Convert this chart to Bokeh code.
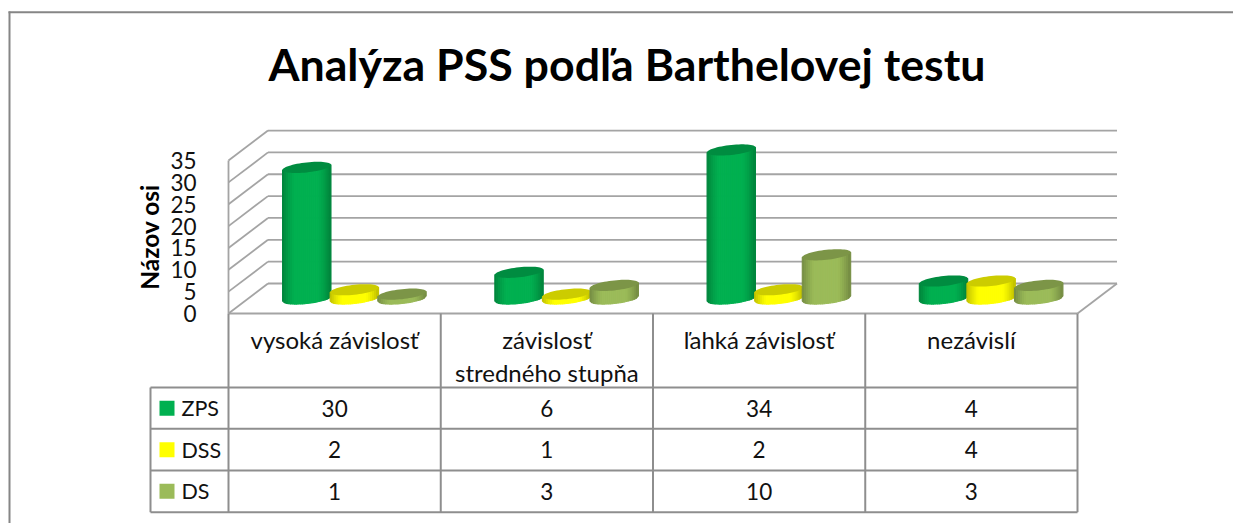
from bokeh.plotting import figure
from bokeh.models import Range1d, LinearAxis, FixedTicker
from bokeh.core.properties import value
from bokeh.embed import file_html
from bokeh.resources import INLINE
import numpy as np

title_text = "Analýza PSS podľa Barthelovej testu"
axis_title = "Názov osi"
categories = ["vysoká závislosť", "závislosť\nstredného stupňa", "ľahká závislosť", "nezávislí"]
series_names = ["ZPS", "DSS", "DS"]
ZPS = [30, 6, 34, 4]
DSS = [2, 1, 2, 4]
DS = [1, 3, 10, 3]
y_ticks = [0, 5, 10, 15, 20, 25, 30, 35]
series_colors = ["#00B050", "#FFFF00", "#9BBB59"]
series_values = [ZPS, DSS, DS]

FONT = "Lato"
W, H = 1233, 523
UX, UY = 212.25, 4.37          # pixels per category, pixels per axis unit
X0, Y0 = 228.0, 313.0          # page position of the front axis origin
DX, DY = 39.5, 30.0            # depth of the 3D box in pixels


def X(px):
    return (px - X0) / UX


def Y(py):
    return (Y0 - py) / UY


p = figure(width=W, height=H, output_backend="svg", toolbar_location=None,
           x_range=Range1d(X(0), X(W)), y_range=Range1d(Y(H), Y(0)),
           x_axis_location=None, y_axis_location=None, min_border=0)
p.outline_line_color = None
p.background_fill_color = "white"
p.border_fill_color = "white"
p.xgrid.visible = False
p.ygrid.visible = False

GRID = "#a4a4a4"
TABLE = "#8e8e8e"
ddx, ddy = DX / UX, DY / UY
n = len(categories)

# outer chart frame
p.segment([X(9), X(8)], [Y(11), Y(11.7)], [X(9), X(W)], [Y(H), Y(11.7)],
          line_color="#868686", line_width=2)

# walls: back grid lines, side diagonals, floor
p.segment([ddx] * len(y_ticks), [t + ddy for t in y_ticks],
          [n + ddx] * len(y_ticks), [t + ddy for t in y_ticks],
          line_color=GRID, line_width=1.8)
p.segment([0] * len(y_ticks), y_ticks, [ddx] * len(y_ticks), [t + ddy for t in y_ticks],
          line_color=GRID, line_width=1.8)
p.segment([0, n], [0, 0], [n, n + ddx], [0, ddy], line_color=GRID, line_width=1.8)


def shade(c, f):
    r, g, b = int(c[1:3], 16), int(c[3:5], 16), int(c[5:7], 16)
    return "#%02x%02x%02x" % (int(r * f), int(g * f), int(b * f))


def cylinder(cx, v, color):
    a, b, k = 24.2 / UX, 5.0 / UY, 0.105
    base = ddy / 2
    ts = np.linspace(-1, 1, 25)
    xs, ys, cs = [], [], []
    for t0, t1 in zip(ts[:-1], ts[1:]):
        tt = np.array([t0, t1])
        tm = (t0 + t1) / 2
        xa = cx + a * tt
        tilt = k * (a * UX) * tt / UY
        low = base + tilt - b * np.sqrt(np.clip(1 - tt ** 2, 0, 1))
        top = base + v + tilt
        xs.append([xa[0], xa[1], xa[1], xa[0]])
        ys.append([low[0], low[1], top[1], top[0]])
        cs.append(shade(color, 0.74 + 0.26 * min(1, 1.35 * (1 - tm ** 2))))
    p.patches(xs, ys, fill_color=cs, line_color=cs, line_width=1.1)
    th = np.linspace(0, 2 * np.pi, 61)
    ex = cx + a * np.cos(th)
    ey = base + v + k * (a * UX) * np.cos(th) / UY + b * np.sin(th)
    p.patch(ex, ey, fill_color=shade(color, 0.80), line_color=None)


for i in range(n):
    centre = i + 0.5 + ddx / 2
    for j, vals in enumerate(series_values):
        cylinder(centre + (j - 1) * 47.6 / UX, vals[i], series_colors[j])

# value axis
ax = LinearAxis(ticker=FixedTicker(ticks=y_ticks), fixed_location=0, bounds=(0, 35),
                axis_line_color=GRID, axis_line_width=1.8,
                major_tick_line_color=None, minor_tick_line_color=None,
                major_label_standoff=26,
                major_label_text_font=FONT, major_label_text_font_size="22.5px",
                major_label_text_color="#111111",
                axis_label=axis_title, axis_label_text_font=FONT,
                axis_label_text_font_size="24.5px", axis_label_text_font_style="bold",
                axis_label_text_color="black", axis_label_standoff=3)
p.add_layout(ax, "left")

# data table grid
ROWS = [387.0, 428.3, 470.0, 511.7]
row_left = X(150)
p.segment([row_left] * 4, [Y(r) for r in ROWS], [n] * 4, [Y(r) for r in ROWS],
          line_color=TABLE, line_width=2)
p.segment([row_left], [Y(ROWS[0])], [row_left], [Y(ROWS[-1])], line_color=TABLE, line_width=2)
p.segment(list(range(n + 1)), [0] * (n + 1), list(range(n + 1)), [Y(ROWS[-1])] * (n + 1),
          line_color=TABLE, line_width=2)

# category labels
p.text([i + 0.5 for i in range(n)], [Y(324)] * n, text=categories,
       text_font=value(FONT), text_font_size="24px", text_align="center",
       text_baseline="top", text_line_height=1.14, text_color="#111111")

# table values, legend keys and names
for j, vals in enumerate(series_values):
    yc = Y((ROWS[j] + ROWS[j + 1]) / 2)
    p.text([i + 0.5 for i in range(n)], [yc] * n, text=[str(v) for v in vals],
           text_font=value(FONT), text_font_size="22.5px", text_align="center",
           text_baseline="middle", text_color="#111111")
    p.quad(left=[X(159)], right=[X(174)], bottom=[yc - 7.5 / UY], top=[yc + 7.5 / UY],
           fill_color=series_colors[j], line_color=None)
    p.text([X(181)], [yc], text=[series_names[j]], text_font=value(FONT),
           text_font_size="21.5px", text_align="left", text_baseline="middle",
           text_color="#111111")

# chart title
p.text([X(626.5)], [Y(63)], text=[title_text], text_font=value(FONT),
       text_font_size="44.7px", text_font_style="bold", text_align="center",
       text_baseline="middle", text_color="black")

open("out.html", "w").write(file_html(p, INLINE))
